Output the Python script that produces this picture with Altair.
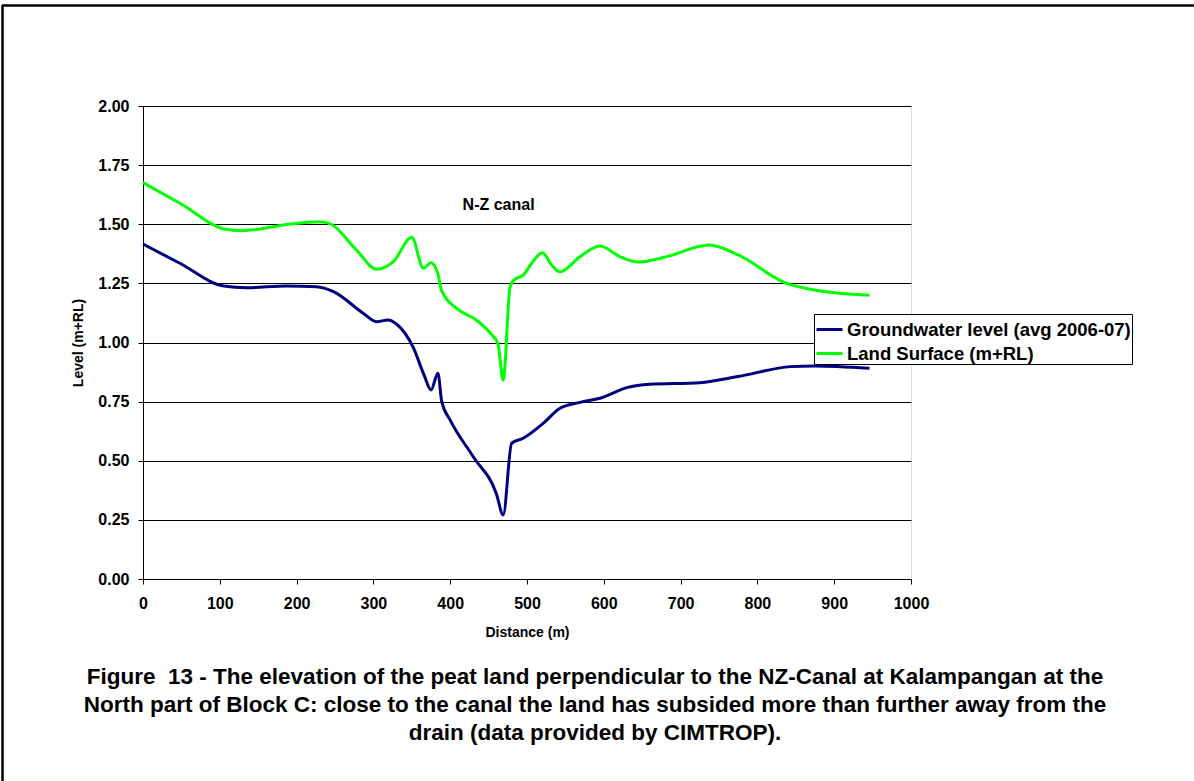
import altair as alt
import pandas as pd

# Land surface profile across the N-Z canal (distance in m, level in m+RL)
land_dist = [0, 48, 109, 130, 190, 230, 245, 278, 304, 326, 350, 365, 375, 384, 389,
             408, 434, 452, 462, 469, 478, 483, 495, 506, 520, 532, 543, 569, 595,
             621, 645, 682, 737, 775, 838, 874, 946]
land_level = [1.676, 1.589, 1.478, 1.473, 1.500, 1.511, 1.500, 1.391, 1.310, 1.342,
              1.445, 1.314, 1.337, 1.290, 1.218, 1.145, 1.095, 1.040, 0.997, 0.841,
              1.236, 1.264, 1.285, 1.335, 1.380, 1.328, 1.299, 1.363, 1.408, 1.363,
              1.340, 1.363, 1.412, 1.370, 1.250, 1.222, 1.200]

# Average groundwater level 2006-07 along the same transect
gw_dist = [0, 48, 105, 135, 187, 226, 248, 287, 304, 319, 330, 352, 366, 375, 384,
           389, 400, 430, 460, 469, 480, 495, 521, 543, 569, 595, 630, 660, 725,
           775, 843, 874, 946]
gw_level = [1.416, 1.335, 1.239, 1.232, 1.239, 1.236, 1.215, 1.123, 1.088, 1.095,
            1.078, 0.978, 0.862, 0.799, 0.870, 0.750, 0.672, 0.517, 0.362, 0.271,
            0.574, 0.595, 0.658, 0.722, 0.747, 0.764, 0.809, 0.823, 0.830, 0.856,
            0.898, 0.901, 0.891]

series_names = ["Groundwater level (avg 2006-07)", "Land Surface (m+RL)"]
series_colors = ["#000080", "#00FF00"]

y_ticks = [0, 0.25, 0.5, 0.75, 1.0, 1.25, 1.5, 1.75, 2.0]
x_ticks = [0, 100, 200, 300, 400, 500, 600, 700, 800, 900, 1000]

caption = [
    "Figure \u00a013 - The elevation of the peat land perpendicular to the NZ-Canal at Kalampangan at the",
    "North part of Block C: close to the canal the land has subsided more than further away from the",
    "drain (data provided by CIMTROP).",
]

FONT = "Liberation Sans"
W, H = 768, 473
PAD_L, PAD_T = 143, 106

df = pd.concat([
    pd.DataFrame({"Distance": gw_dist, "Level": gw_level, "Series": series_names[0]}),
    pd.DataFrame({"Distance": land_dist, "Level": land_level, "Series": series_names[1]}),
])

x_scale = alt.Scale(domain=[0, 1000], nice=False)
y_scale = alt.Scale(domain=[0, 2], nice=False)

lines = alt.Chart(df).mark_line(strokeWidth=3, interpolate="monotone").encode(
    x=alt.X("Distance:Q", scale=x_scale,
            axis=alt.Axis(values=x_ticks, format="d", title="Distance (m)", grid=False,
                          domainColor="black", tickColor="black", tickSize=5,
                          labelFont=FONT, labelFontSize=16, labelFontWeight="bold",
                          labelColor="black", labelPadding=11, labelFlush=False,
                          titleFont=FONT, titleFontSize=14, titleFontWeight="bold",
                          titleColor="black", titleX=W / 2, titleY=53,
                          titleBaseline="middle")),
    y=alt.Y("Level:Q", scale=y_scale,
            axis=alt.Axis(values=y_ticks, format=".2f", title="Level (m+RL)",
                          grid=True, gridColor="black", gridWidth=1,
                          domainColor="black", tickColor="black", tickSize=5,
                          labelFont=FONT, labelFontSize=16, labelFontWeight="bold",
                          labelColor="black", labelPadding=9,
                          titleFont=FONT, titleFontSize=14, titleFontWeight="bold",
                          titleColor="black", titleX=-65, titleY=H / 2,
                          titleBaseline="middle", titleAlign="center", titleAngle=270)),
    color=alt.Color("Series:N",
                    scale=alt.Scale(domain=series_names, range=series_colors),
                    legend=alt.Legend(title=None, orient="none",
                                      legendX=671, legendY=208,
                                      symbolType="stroke", symbolSize=676,
                                      symbolStrokeWidth=3, labelFont=FONT,
                                      labelFontSize=18.5, labelFontWeight="bold",
                                      labelColor="black", labelOffset=3,
                                      rowPadding=0, padding=1,
                                      strokeColor="black", fillColor="white",
                                      labelLimit=400)),
)

canal_label = alt.Chart(pd.DataFrame({"Distance": [463], "Level": [1.581],
                                      "Label": ["N-Z canal"]})).mark_text(
    font=FONT, fontSize=16, fontWeight="bold", color="black"
).encode(x=alt.X("Distance:Q", scale=x_scale), y=alt.Y("Level:Q", scale=y_scale),
         text="Label:N")

# Figure caption below the chart
caption_text = alt.Chart(alt.Data(values=[{"Caption": "\n".join(caption)}])).mark_text(
    font=FONT, fontSize=22.5, fontWeight="bold", color="black", align="center",
    baseline="middle", lineBreak="\n", lineHeight=28
).encode(x=alt.value(595 - PAD_L), y=alt.value(677 - PAD_T), text="Caption:N")

# Page frame along the top and left edges
frame_top = alt.Chart(alt.Data(values=[{}])).mark_rule(color="black", strokeWidth=2.5).encode(
    x=alt.value(-141), x2=alt.value(1194 - PAD_L), y=alt.value(5.5 - PAD_T))
frame_left = alt.Chart(alt.Data(values=[{}])).mark_rule(color="black", strokeWidth=2.5).encode(
    x=alt.value(2.5 - PAD_L), y=alt.value(5 - PAD_T), y2=alt.value(781 - PAD_T))

chart = alt.layer(lines, canal_label, caption_text, frame_top, frame_left).properties(
    width=W, height=H,
    autosize=alt.AutoSizeParams(type="none"),
    padding={"left": PAD_L, "top": PAD_T, "right": 1194 - PAD_L - W, "bottom": 781 - PAD_T - H},
).configure_view(stroke="#808080", strokeWidth=1.5).configure(background="white")

chart.save("out.html", embed_options={"renderer": "svg", "actions": False})
